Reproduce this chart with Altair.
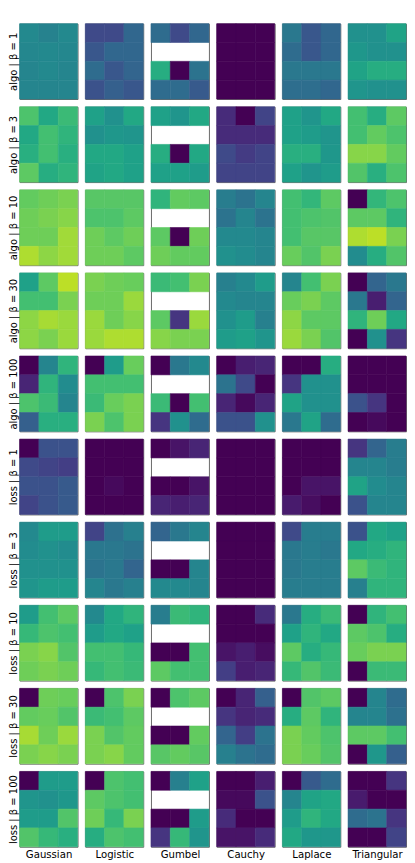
import altair as alt
import pandas as pd

DISTS = ["Gaussian", "Logistic", "Gumbel", "Cauchy", "Laplace", "Triangular"]
ROWS = ["algo | β = 1", "algo | β = 3", "algo | β = 10", "algo | β = 30", "algo | β = 100",
        "loss | β = 1", "loss | β = 3", "loss | β = 10", "loss | β = 30", "loss | β = 100"]
N = None

# each panel: 4 rows x 3 columns (row-major), None = missing
ALGO_B1 = [
    [.47, .44, .47, .46, .47, .46, .45, .47, .45, .45, .45, .45],
    [.22, .22, .33, .27, .33, .33, .35, .27, .32, .25, .30, .27],
    [.35, .22, .33, N, N, N, .62, .00, .38, .35, .35, .28],
    [0, 0, 0, 0, 0, 0, 0, 0, 0, 0, 0, 0],
    [.40, .27, .33, .35, .27, .33, .40, .40, .40, .36, .36, .33],
    [.50, .50, .58, .53, .50, .50, .58, .62, .62, .52, .50, .50],
]
ALGO_B3 = [
    [.72, .60, .68, .60, .70, .65, .63, .70, .63, .75, .62, .65],
    [.57, .50, .60, .50, .53, .52, .60, .60, .57, .58, .60, .57],
    [.57, .52, .60, N, N, N, .62, .00, .60, .57, .57, .55],
    [.12, .00, .20, .12, .12, .12, .22, .17, .20, .20, .20, .20],
    [.57, .52, .60, .57, .55, .52, .63, .63, .53, .57, .52, .55],
    [.70, .62, .75, .70, .76, .72, .82, .82, .76, .73, .63, .72],
]
ALGO_B10 = [
    [.76, .78, .80, .78, .80, .82, .78, .78, .86, .88, .83, .86],
    [.74, .74, .74, .72, .72, .75, .78, .75, .78, .78, .78, .75],
    [.65, .76, .75, N, N, N, .75, .00, .78, .78, .76, .76],
    [.42, .38, .45, .38, .45, .38, .47, .47, .45, .50, .48, .45],
    [.70, .66, .75, .70, .72, .73, .70, .74, .74, .77, .73, .80],
    [.00, .66, .72, .75, .75, .65, .88, .90, .80, .48, .62, .73],
]
ALGO_B30 = [
    [.57, .75, .90, .70, .70, .80, .83, .87, .85, .83, .80, .85],
    [.80, .78, .77, .78, .78, .85, .85, .78, .82, .85, .88, .88],
    [.68, .70, .80, N, N, N, .75, .15, .85, .82, .80, .80],
    [.43, .47, .55, .47, .45, .45, .50, .55, .43, .55, .57, .52],
    [.45, .70, .80, .77, .80, .75, .83, .75, .75, .85, .80, .73],
    [.00, .32, .40, .40, .08, .32, .65, .78, .60, .00, .50, .15],
]
ALGO_B100 = [
    [.00, .45, .65, .10, .65, .48, .72, .68, .45, .30, .63, .63],
    [.00, .55, .77, .70, .70, .70, .68, .77, .80, .80, .72, .80],
    [.00, .40, .47, N, N, N, .68, .00, .70, .15, .50, .35],
    [.00, .08, .10, .38, .22, .00, .10, .02, .10, .25, .25, .50],
    [.00, .00, .62, .15, .50, .50, .58, .50, .50, .40, .58, .35],
    [.00, .00, .00, .00, .00, .00, .25, .15, .00, .00, .02, .00],
]
LOSS_B1 = [
    [.00, .25, .25, .22, .20, .18, .25, .25, .28, .20, .25, .28],
    [.00, .00, .00, .00, .00, .00, .00, .02, .00, .00, .00, .00],
    [.00, .05, .10, N, N, N, .00, .00, .05, .10, .08, .10],
    [0, 0, 0, 0, 0, 0, 0, 0, 0, 0, 0, 0],
    [.00, .00, .00, .00, .00, .00, .00, .05, .05, .07, .03, .00],
    [.15, .32, .42, .45, .45, .42, .58, .48, .45, .25, .45, .45],
]
LOSS_B3 = [
    [.47, .55, .55, .48, .50, .48, .50, .50, .50, .52, .55, .55],
    [.20, .37, .43, .40, .40, .38, .38, .40, .32, .45, .40, .43],
    [.32, .40, .45, N, N, N, .00, .00, .45, .47, .47, .45],
    [0, 0, 0, 0, 0, 0, 0, 0, 0, 0, 0, 0],
    [.22, .42, .42, .40, .42, .40, .40, .42, .42, .42, .42, .42],
    [.25, .60, .57, .60, .62, .65, .75, .68, .65, .43, .65, .65],
]
LOSS_B10 = [
    [.55, .70, .75, .67, .72, .70, .80, .82, .73, .78, .80, .78],
    [.47, .60, .65, .55, .60, .57, .70, .70, .67, .67, .70, .68],
    [.42, .68, .65, N, N, N, .00, .00, .70, .75, .70, .70],
    [.00, .00, .12, .00, .00, .00, .05, .08, .03, .18, .08, .10],
    [.40, .62, .68, .57, .65, .60, .75, .62, .67, .67, .73, .68],
    [.00, .65, .70, .75, .72, .62, .77, .80, .80, .00, .68, .68],
]
LOSS_B30 = [
    [.00, .78, .77, .76, .77, .73, .87, .78, .85, .80, .82, .80],
    [.00, .72, .80, .68, .70, .75, .80, .73, .76, .80, .82, .76],
    [.00, .72, .75, N, N, N, .00, .00, .76, .74, .76, .74],
    [.00, .10, .30, .15, .10, .12, .32, .18, .38, .43, .38, .35],
    [.00, .73, .75, .62, .75, .65, .80, .76, .72, .80, .77, .73],
    [.00, .45, .35, .45, .45, .37, .75, .75, .70, .00, .53, .30],
]
LOSS_B100 = [
    [.00, .55, .55, .52, .50, .53, .55, .55, .73, .73, .67, .63],
    [.00, .72, .70, .75, .72, .70, .78, .67, .80, .62, .72, .70],
    [.00, .43, .57, N, N, N, .00, .00, .55, .15, .67, .52],
    [.00, .00, .08, .02, .02, .25, .12, .00, .00, .05, .05, .12],
    [.00, .28, .35, .45, .58, .60, .55, .65, .60, .60, .53, .53],
    [.00, .00, .15, .07, .00, .00, .35, .38, .15, .00, .00, .20],
]

PANELS = [ALGO_B1, ALGO_B3, ALGO_B10, ALGO_B30, ALGO_B100,
          LOSS_B1, LOSS_B3, LOSS_B10, LOSS_B30, LOSS_B100]

cscale = alt.Scale(scheme="viridis", domain=[0, 1])
xscale = alt.Scale(domain=[0, 1, 2], paddingInner=0, paddingOuter=0)
yscale = alt.Scale(domain=[0, 1, 2, 3], paddingInner=0, paddingOuter=0)
FONT = "DejaVu Sans"

rows = []
for ri, (rname, panel) in enumerate(zip(ROWS, PANELS)):
    cells = []
    for ci, (dname, vals) in enumerate(zip(DISTS, panel)):
        recs = [{"i": k // 3, "j": k % 3, "v": v} for k, v in enumerate(vals) if v is not None]
        sub = pd.DataFrame(recs)
        if ci == 0:
            yaxis = alt.Axis(title=rname, labels=False, ticks=False, domain=False, grid=False,
                             titleFont=FONT, titleFontSize=10.3, titleFontWeight="normal",
                             titleColor="#000", titlePadding=1)
        else:
            yaxis = None
        if ri == len(ROWS) - 1:
            xaxis = alt.Axis(title=dname, labels=False, ticks=False, domain=False, grid=False,
                             titleFont=FONT, titleFontSize=10.5, titleFontWeight="normal",
                             titleColor="#000", titlePadding=3)
        else:
            xaxis = None
        c = alt.Chart(sub).mark_rect(strokeWidth=0.6).encode(
            x=alt.X("j:O", axis=xaxis, scale=xscale),
            y=alt.Y("i:O", axis=yaxis, scale=yscale),
            color=alt.Color("v:Q", legend=None, scale=cscale),
            stroke=alt.Stroke("v:Q", legend=None, scale=cscale),
        ).properties(width=60, height=78)
        cells.append(c)
    rows.append(alt.hconcat(*cells, spacing=6))

chart = alt.vconcat(*rows, spacing=6).configure_view(
    stroke="#666666", strokeWidth=1
).properties(padding=0)

chart.save("out.html", embed_options={"renderer": "svg", "actions": False})
